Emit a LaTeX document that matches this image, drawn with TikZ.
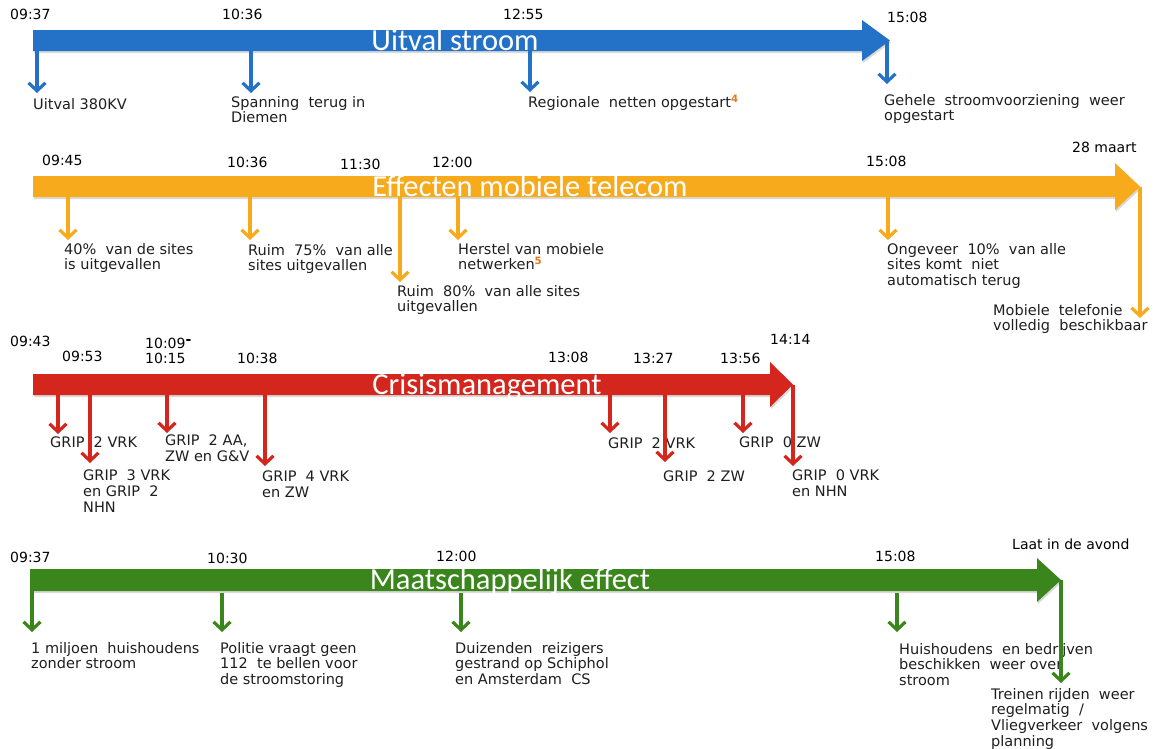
\documentclass[tikz,border=0pt]{standalone}
\usepackage{fontspec}
\setmainfont{DejaVu Sans}
\newfontfamily\titlefont{Carlito}
\usetikzlibrary{arrows.meta,shadows}

\definecolor{stroomblue}{RGB}{36,114,200}
\definecolor{telecomorange}{RGB}{246,170,28}
\definecolor{crisisred}{RGB}{212,38,28}
\definecolor{effectgreen}{RGB}{58,134,28}
\definecolor{noteorange}{RGB}{232,118,28}
\definecolor{labelgray}{RGB}{30,30,30}

\tikzset{
    band/.style={drop shadow={shadow xshift=1pt,shadow yshift=-2pt,opacity=.3}},
    bandtitle/.style={anchor=base, inner sep=0pt, text=white, font=\titlefont\fontsize{30.5}{30}\selectfont},
    time/.style={anchor=west, inner sep=0pt, font=\fontsize{14}{15.5}\selectfont},
    event/.style={anchor=north west, inner sep=0pt, align=left, text=labelgray, font=\fontsize{14.5}{15.6}\selectfont},
    tick/.style={line width=3.2pt, -{Straight Barb[length=8pt,width=17pt]}},
}
\newcommand{\note}[1]{\textsuperscript{\textcolor{noteorange}{\textbf{#1}}}}

\begin{document}
\begin{tikzpicture}[x=1pt,y=-1pt]
        \useasboundingbox (0,0) rectangle (1160,748);

        % balken
        \fill[stroomblue,band]
            (33,30) -- (862,30) -- (862,20) -- (890,40.5)
            -- (862,61) -- (862,51) -- (33,51) -- cycle;
        \fill[telecomorange,band]
            (33,176) -- (1115,176) -- (1115,163) -- (1140,186.5)
            -- (1115,210) -- (1115,197) -- (33,197) -- cycle;
        \fill[crisisred,band]
            (33,374) -- (770,374) -- (770,362) -- (793,384.5)
            -- (770,407) -- (770,395) -- (33,395) -- cycle;
        \fill[effectgreen,band]
            (30,569) -- (1037,569) -- (1037,558) -- (1061,580)
            -- (1037,602) -- (1037,591) -- (30,591) -- cycle;

        \node[bandtitle] (stroomtitle) at (455,50) {Uitval stroom};
        \node[bandtitle] (telecomtitle) at (530,196) {Effecten mobiele telecom};
        \node[bandtitle] (crisistitle) at (487,394) {Crisismanagement};
        \node[bandtitle] (effecttitle) at (510,589) {Maatschappelijk effect};

        % tijden
        \foreach \n/\x/\y/\t in {s1/10/14/09:37, s2/222/14/10:36, s3/503/14/12:55, s4/887/17/15:08,
                t1/42/160/09:45, t2/227/162/10:36, t3/340/164/11:30, t4/432/162/12:00,
                t5/866/161/15:08, t6/1072/147/28 maart,
                c1/10/341/09:43, c2/62/356/09:53, c3/145/343/{10:09\raisebox{4pt}{\textbf{-}}},
                c4/145/358/10:15, c5/237/358/10:38, c6/548/357/13:08, c7/633/358/13:27,
                c8/720/358/13:56, c9/770/339/14:14,
                m1/10/557/09:37, m2/207/558/10:30, m3/436/556/12:00, m4/875/556/15:08,
                m5/1012/544/Laat in de avond}
            \node[time] (tijd\n) at (\x,\y) {\t};

        % gebeurtenissen
        \node[event] (uitval) at (33,98) {Uitval 380KV};
        \node[event] (spanning) at (231,96) {Spanning~ terug in\\Diemen};
        \node[event] (regionaal) at (528,95) {Regionale~ netten opgestart\note{4}};
        \node[event] (gehele) at (884,94) {Gehele~ stroomvoorziening~ weer\\opgestart};

        \node[event] (sites40) at (64,243) {40\%~ van de sites\\is uitgevallen};
        \node[event] (sites75) at (248,244) {Ruim~ 75\%~ van alle\\sites uitgevallen};
        \node[event] (herstel) at (458,243) {Herstel van mobiele\\netwerken\note{5}};
        \node[event] (sites80) at (397,285) {Ruim~ 80\%~ van alle sites\\uitgevallen};
        \node[event] (sites10) at (887,243) {Ongeveer~ 10\%~ van alle\\sites komt~ niet\\automatisch terug};
        \node[event] (mobiel) at (993,304) {Mobiele~ telefonie\\volledig~ beschikbaar};

        \node[event] (grip2vrk) at (50,437) {GRIP~ 2 VRK};
        \node[event] (grip3vrk) at (83,470) {GRIP~ 3 VRK\\en GRIP~ 2\\NHN};
        \node[event] (grip2aa) at (165,435) {GRIP~ 2 AA,\\ZW en G\&V};
        \node[event] (grip4vrk) at (262,471) {GRIP~ 4 VRK\\en ZW};
        \node[event] (grip2vrkb) at (608,438) {GRIP~ 2 VRK};
        \node[event] (grip2zw) at (663,471) {GRIP~ 2 ZW};
        \node[event] (grip0zw) at (739,437) {GRIP~ 0 ZW};
        \node[event] (grip0vrk) at (792,470) {GRIP~ 0 VRK\\en NHN};

        \node[event] (miljoen) at (31,642) {1 miljoen~ huishoudens\\zonder stroom};
        \node[event] (politie) at (220,642) {Politie vraagt geen\\112~ te bellen voor\\de stroomstoring};
        \node[event] (reizigers) at (455,642) {Duizenden~ reizigers\\gestrand op Schiphol\\en Amsterdam~ CS};
        \node[event] (huishoudens) at (899,643) {Huishoudens~ en bedrijven\\beschikken~ weer over\\stroom};
        \node[event] (treinen) at (991,688) {Treinen rijden~ weer\\regelmatig~ /\\Vliegverkeer~ volgens\\planning};

        % pijltjes
        \foreach \n/\x/\a/\b in {1/37/51/93, 2/251/51/93, 3/530/51/92, 4/887/40.5/84} {
            \coordinate (bs\n) at (\x,\a);
            \coordinate (be\n) at (\x,\b);
            \draw[tick,stroomblue] (bs\n) -- (be\n);
        }
        \foreach \n/\x/\a/\b in {1/68/197/240, 2/250/197/240, 3/400/197/282, 4/458/197/240,
                5/888/197/240, 6/1140/186.5/318} {
            \coordinate (os\n) at (\x,\a);
            \coordinate (oe\n) at (\x,\b);
            \draw[tick,telecomorange] (os\n) -- (oe\n);
        }
        \foreach \n/\x/\a/\b in {1/58/395/434, 2/90/395/463, 3/167/395/433, 4/265/395/466,
                5/610/395/433, 6/665/395/462, 7/743/395/433, 8/793/384.5/466} {
            \coordinate (rs\n) at (\x,\a);
            \coordinate (re\n) at (\x,\b);
            \draw[tick,crisisred] (rs\n) -- (re\n);
        }
        \foreach \n/\x/\a/\b in {1/32/591/632, 2/222/593/632, 3/461/593/632, 4/897/593/632,
                5/1061/580/683} {
            \coordinate (gs\n) at (\x,\a);
            \coordinate (ge\n) at (\x,\b);
            \draw[tick,effectgreen] (gs\n) -- (ge\n);
        }
    \end{tikzpicture}
\end{document}
